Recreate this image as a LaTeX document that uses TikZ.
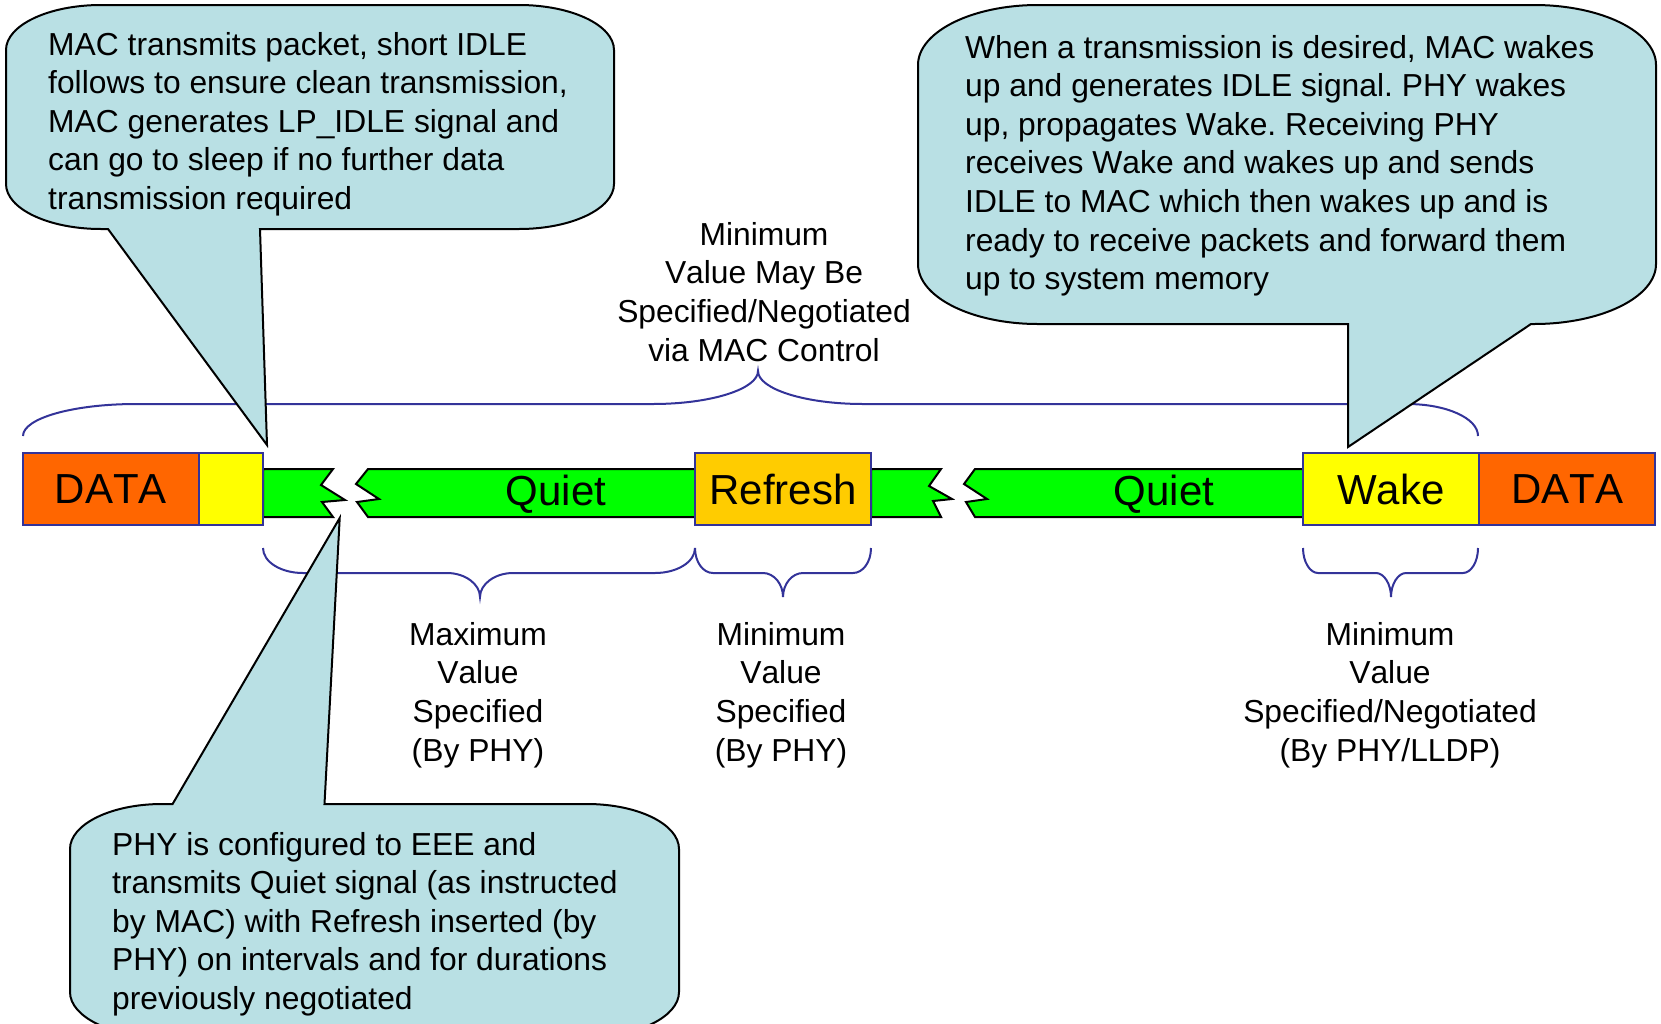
\documentclass[tikz,border=0pt]{standalone}
\usepackage{fontspec}
\setmainfont{Liberation Sans}[Kerning=Off]
\frenchspacing
\definecolor{dataorange}{RGB}{255,102,0}
\definecolor{idleyellow}{RGB}{255,255,0}
\definecolor{refreshgold}{RGB}{255,204,0}
\definecolor{quietgreen}{RGB}{0,255,0}
\definecolor{braceblue}{RGB}{51,51,153}
\definecolor{callfill}{RGB}{185,224,228}
\newcommand\ctxt[2]{\parbox[t]{#1}{\fontsize{31.8}{38.6}\selectfont\frenchspacing\raggedright #2}}
\newcommand\ltxt[1]{\parbox[t]{400pt}{\fontsize{31.8}{38.8}\selectfont\centering #1}}
\begin{document}
\begin{tikzpicture}[x=1pt,y=-1pt,
  blk/.style={draw=braceblue, line width=2.2pt, minimum width=176pt, minimum height=72pt, inner sep=0pt, font=\fontsize{42}{50}\selectfont},
  strip/.style={fill=quietgreen, draw=black, line width=2pt, line join=miter},
  brc/.style={draw=braceblue, line width=2pt},
  callout/.style={fill=callfill, draw=black, line width=2pt, line join=miter},
  ctext/.style={anchor=base west, inner sep=0pt},
  lbl/.style={anchor=base, inner sep=0pt},
  bartext/.style={anchor=base, inner sep=0pt, font=\fontsize{42}{50}\selectfont}]
\useasboundingbox (0,0) rectangle (1661,1023);
\clip (0,0) rectangle (1661,1023);

% braces
\draw[brc] (23,436) .. controls (23,418) and (74,404) .. (136,404) -- (653,404)
  .. controls (711,404) and (758,389) .. (758,371)
  .. controls (758,389) and (805,404) .. (863,404) -- (1407,404)
  .. controls (1446,404) and (1478,418) .. (1478,436);
\draw[brc] (263,548) .. controls (263,562) and (281,573) .. (303,573) -- (447,573)
  .. controls (465,573) and (480,584) .. (480,597)
  .. controls (480,584) and (495,573) .. (513,573) -- (655,573)
  .. controls (677,573) and (695,562) .. (695,548);
\draw[brc] (695,548) .. controls (695,562) and (703,573) .. (713,573) -- (763,573)
  .. controls (774,573) and (783,584) .. (783,597)
  .. controls (783,584) and (792,573) .. (803,573) -- (853,573)
  .. controls (863,573) and (871,562) .. (871,548);
\draw[brc] (1303,548) .. controls (1303,562) and (1310,573) .. (1318,573) -- (1376,573)
  .. controls (1384,573) and (1391,584) .. (1391,597)
  .. controls (1391,584) and (1398,573) .. (1406,573) -- (1463,573)
  .. controls (1471,573) and (1478,562) .. (1478,548);

% green strips
\draw[strip] (263,469) -- (333,469) -- (321,485) -- (345,500) -- (322,502) -- (333,517) -- (263,517) -- cycle;
\draw[strip] (368,469) -- (695,469) -- (695,517) -- (368,517) -- (357,502) -- (379,499) -- (356,484) -- cycle;
\draw[strip] (871,469) -- (941,469) -- (929,486) -- (952,499) -- (933,501) -- (941,517) -- (871,517) -- cycle;
\draw[strip] (975,469) -- (1303,469) -- (1303,517) -- (975,517) -- (966,502) -- (987,499) -- (964,484) -- cycle;
\node[bartext] (quiet1) at (556,505) {Quiet};
\node[bartext] (quiet2) at (1164,505) {Quiet};

% boxes
\node[blk, fill=dataorange] (data1) at (111,489) {DATA};
\node[blk, fill=idleyellow, minimum width=64pt] (idle) at (231,489) {};
\node[blk, fill=refreshgold] (refresh) at (783,489) {Refresh};
\node[blk, fill=idleyellow] (wake) at (1391,489) {Wake};
\node[blk, fill=dataorange] (data2) at (1567,489) {DATA};

% labels
\node[lbl] (lblmac) at (764,245) {\ltxt{Minimum\\Value May Be\\Specified/Negotiated\\via MAC Control}};
\node[lbl] (lblquiet) at (478,645) {\ltxt{Maximum\\Value\\Specified\\(By PHY)}};
\node[lbl] (lblrefresh) at (781,645) {\ltxt{Minimum\\Value\\Specified\\(By PHY)}};
\node[lbl] (lblwake) at (1390,645) {\ltxt{Minimum\\Value\\Specified/Negotiated\\(By PHY/LLDP)}};

% callout top-left
\draw[callout] (101,5) -- (519,5) .. controls (571.4,5) and (614,25.2) .. (614,50) -- (614,184)
  .. controls (614,208.8) and (571.4,229) .. (519,229) -- (260,229) -- (267,445) -- (108,229) -- (101,229)
  .. controls (48.6,229) and (6,208.8) .. (6,184) -- (6,50) .. controls (6,25.2) and (48.6,5) .. (101,5) -- cycle;
\node[ctext] (calltl) at (48,55) {\ctxt{580pt}{MAC transmits packet, short IDLE\\follows to ensure clean transmission,\\MAC generates LP\_IDLE signal and\\can go to sleep if no further data\\transmission required}};

% callout top-right
\draw[callout] (1038,5) -- (1534,5) .. controls (1601.4,5) and (1656,31.9) .. (1656,65) -- (1656,264)
  .. controls (1656,297.1) and (1601.4,324) .. (1534,324) -- (1531,324) -- (1348,447) -- (1348,324) -- (1038,324)
  .. controls (971.8,324) and (918,297.1) .. (918,264) -- (918,65)
  .. controls (918,31.9) and (971.8,5) .. (1038,5) -- cycle;
\node[ctext] (calltr) at (965,58) {\ctxt{680pt}{When a transmission is desired, MAC wakes\\up and generates IDLE signal. PHY wakes\\up, propagates Wake. Receiving PHY\\receives Wake and wakes up and sends\\IDLE to MAC which then wakes up and is\\ready to receive packets and forward them\\up to system memory}};

% callout bottom
\draw[callout] (162,804) -- (172.6,804) -- (339.7,518) -- (324.5,804) -- (587,804)
  .. controls (637.8,804) and (679,824.2) .. (679,849) -- (679,992)
  .. controls (679,1016.8) and (637.8,1037) .. (587,1037) -- (162,1037)
  .. controls (111.2,1037) and (70,1016.8) .. (70,992) -- (70,849)
  .. controls (70,824.2) and (111.2,804) .. (162,804) -- cycle;
\node[ctext] (callb) at (112,855) {\ctxt{580pt}{PHY is configured to EEE and\\transmits Quiet signal (as instructed\\by MAC) with Refresh inserted (by\\PHY) on intervals and for durations\\previously negotiated}};
\end{tikzpicture}
\end{document}
